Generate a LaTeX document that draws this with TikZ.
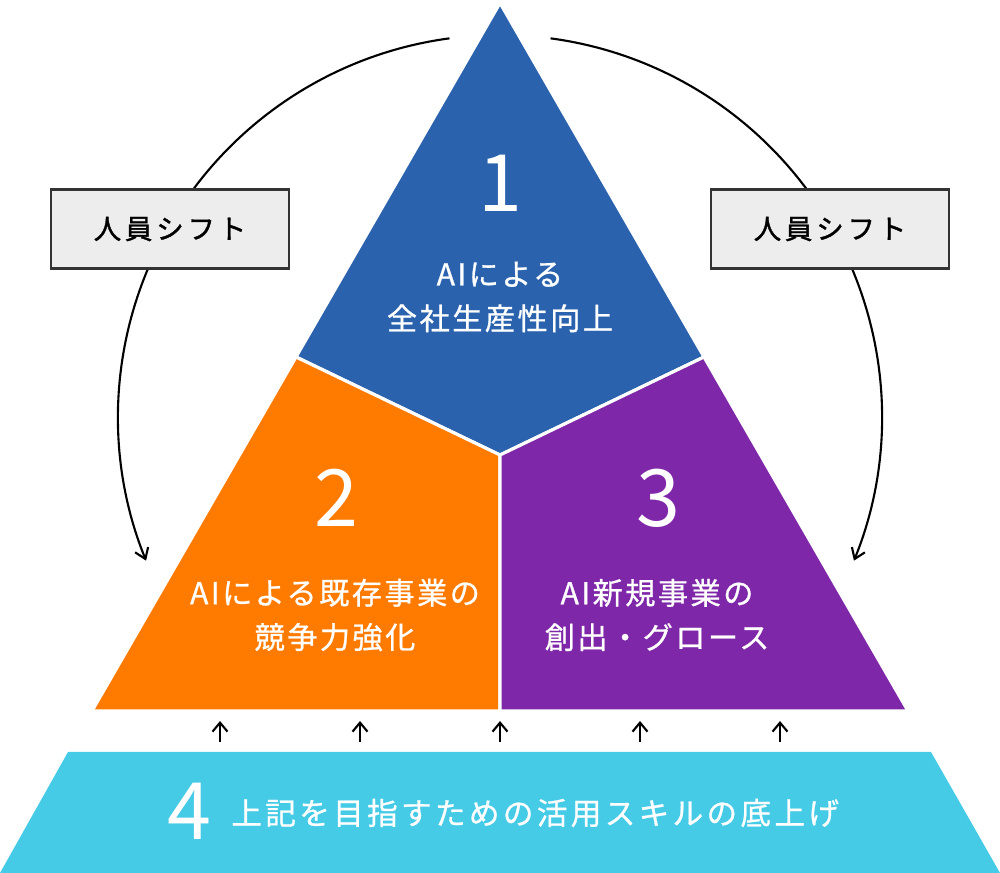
\documentclass[tikz,border=0pt]{standalone}
\usepackage{fontspec}
\setmainfont{Noto Sans CJK JP}
\newfontfamily\jpfont{Noto Sans CJK JP}[LetterSpace=8, FakeBold=0.8]
\newfontfamily\jpwidefont{Noto Sans CJK JP}[LetterSpace=11, FakeBold=0.8]
\newfontfamily\jpboxfont{Noto Sans CJK JP}[LetterSpace=14, FakeBold=1.4]
\usetikzlibrary{arrows.meta,calc}

\definecolor{tierblue}{HTML}{2A62AE}
\definecolor{tierorange}{HTML}{FF7B00}
\definecolor{tierpurple}{HTML}{7E28A9}
\definecolor{tiercyan}{HTML}{46CBE6}
\definecolor{boxfill}{HTML}{EDEDED}
\definecolor{boxline}{HTML}{333333}

\begin{document}
\begin{tikzpicture}[
        every node/.style={font=\jpfont\fontsize{8.6}{12.6}\selectfont},
        piece/.style={draw=white, line width=0.9pt, line join=round},
        number/.style={
            anchor=base,
            text=white,
            font=\fontsize{22.5}{24}\selectfont
        },
        caption/.style={align=center, text=white},
        shiftbox/.style={
            draw=boxline,
            fill=boxfill,
            line width=0.6pt,
            minimum width=2.38cm,
            minimum height=0.79cm,
            font=\jpboxfont\fontsize{7.8}{9}\selectfont
        },
        shiftarc/.style={line width=0.6pt, -{Straight Barb[length=1mm, width=1.4mm]}},
        uparrow/.style={line width=0.6pt, -{Straight Barb[length=0.9mm, width=1.5mm]}}
    ]

    \useasboundingbox (0,0) rectangle (10,8.73);

    % =========================
    % Triangle corners
    % =========================
    \coordinate (apex) at (5.00,8.70);
    \coordinate (botL) at (0.92,1.62);
    \coordinate (botR) at (9.08,1.62);
    \coordinate (midL) at (2.96,5.16);
    \coordinate (midR) at (7.04,5.16);
    \coordinate (core) at (5.00,4.18);
    \coordinate (botM) at (5.00,1.62);

    \filldraw[piece, fill=tierblue] (apex) -- (midR) -- (core) -- (midL) -- cycle;
    \filldraw[piece, fill=tierorange] (midL) -- (core) -- (botM) -- (botL) -- cycle;
    \filldraw[piece, fill=tierpurple] (core) -- (midR) -- (botR) -- (botM) -- cycle;

    % =========================
    % Base layer
    % =========================
    \fill[tiercyan] (0.68,1.21) -- (9.31,1.21) -- (10,0) -- (0,0) -- cycle;

    % Arrows up from the base
    \foreach \x [count=\i] in {2.2,3.6,5.0,6.4,7.8} {
        \coordinate (up\i a) at (\x,1.31);
        \coordinate (up\i b) at (\x,1.52);
        \draw[uparrow] (up\i a) -- (up\i b);
    }

    % =========================
    % Labels
    % =========================
    \node[number] (n1) at (5.00,6.61) {1};
    \node[caption] (t1) at (5.00,5.76) {AIによる\\全社生産性向上};

    \node[number] (n2) at (3.36,3.46) {2};
    \node[caption] (t2) at (3.35,2.58) {AIによる既存事業の\\競争力強化};

    \node[number] (n3) at (6.58,3.46) {3};
    \node[caption] (t3) at (6.57,2.58) {AI新規事業の\\創出・グロース};

    \node[number] (n4) at (1.89,0.33) {4};
    \node[text=white, anchor=west, font=\jpwidefont\fontsize{8.7}{10}\selectfont] (t4) at (2.19,0.60) {上記を目指すための活用スキルの底上げ};

    % =========================
    % Staff shift arcs
    % =========================
    \coordinate (arcL) at ($(5.00,4.56)+(97.6:3.82)$);
    \coordinate (arcR) at ($(5.00,4.56)+(82.4:3.82)$);

    \draw[shiftarc] (arcL) arc[start angle=97.6, end angle=202.1, radius=3.82];
    \draw[shiftarc] (arcR) arc[start angle=82.4, end angle=-22.1, radius=3.82];

    \node[shiftbox] (shiftL) at (1.70,6.44) {人員シフト};
    \node[shiftbox] (shiftR) at (8.30,6.44) {人員シフト};

\end{tikzpicture}
\end{document}
